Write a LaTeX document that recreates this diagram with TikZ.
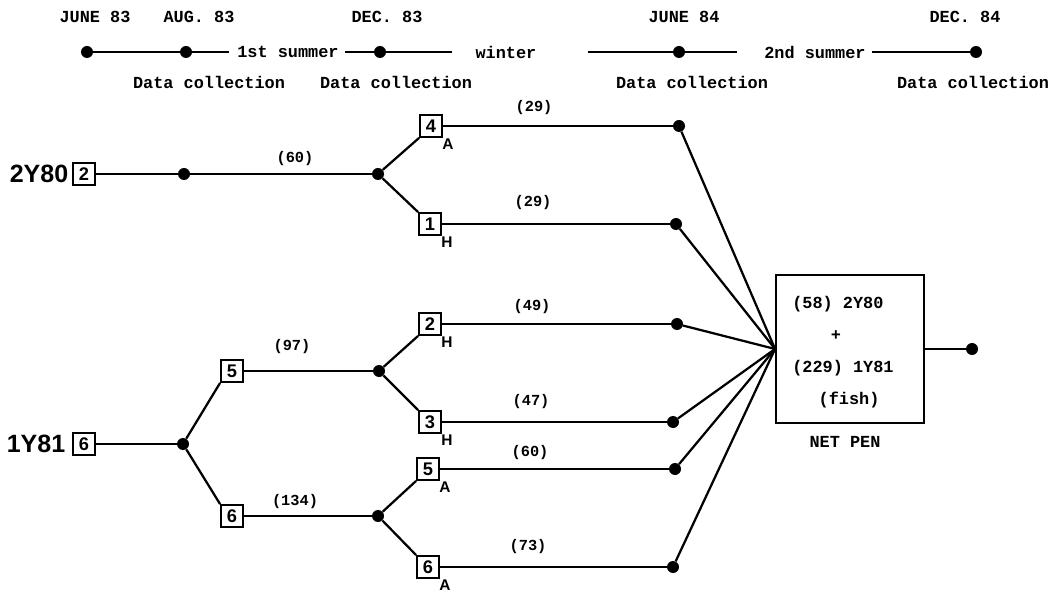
\documentclass[tikz,border=0pt]{standalone}
\usepackage{fontspec}
\newfontfamily\tw{Liberation Mono}
\newfontfamily\hv{Liberation Sans}
\usetikzlibrary{positioning}
\tikzset{tl/.style={font=\tw\bfseries\fontsize{12}{14}\selectfont,inner sep=1pt},
  cnt/.style={font=\tw\bfseries\fontsize{10.9}{12}\selectfont,inner sep=1pt},
  grp/.style={font=\hv\bfseries\fontsize{17.8}{20}\selectfont,inner sep=0pt},
  tank/.style={draw,line width=1.3pt,minimum size=0.55cm,inner sep=0pt,font=\hv\bfseries\fontsize{13}{14}\selectfont},
  tag/.style={font=\hv\bfseries\fontsize{11}{12}\selectfont,inner sep=0.5pt,anchor=north west},
  junc/.style={circle,fill,inner sep=0pt,minimum size=0.3cm},
  ln/.style={line width=1.6pt}}

\begin{document}
\begin{tikzpicture}[x=0.025cm,y=-0.025cm]
% 1 unit = 1 px of the scan, y downwards
\useasboundingbox (0,0) rectangle (1061,597);
% time line
\foreach \n/\x/\m/\lx in {t1/87/JUNE 83/95,t2/186/AUG. 83/199,t3/380/DEC. 83/387,t4/679/JUNE 84/684,t5/976/DEC. 84/965}{
  \node[junc] (\n) at (\x,52) {};
  \node[tl] (m\n) at (\lx,17) {\m};
}
\foreach \k/\x in {1/209,2/396,3/692,4/973}
  \node[tl] (dc\k) at (\x,82) {Data collection};
\node[tl] (s1) at (288,52) {1st summer};
\node[tl] (wi) at (506,52) {winter};
\node[tl] (s2) at (815,52) {2nd summer};
\coordinate (a1) at (229,52); \coordinate (a2) at (345,52);
\coordinate (a3) at (452,52); \coordinate (a4) at (588,52);
\coordinate (a5) at (737,52); \coordinate (a6) at (872,52);
\draw[line width=1.1pt] (t1) -- (t2) -- (a1);
\draw[line width=1.1pt] (a2) -- (t3) -- (a3);
\draw[line width=1.1pt] (a4) -- (t4) -- (a5);
\draw[line width=1.1pt] (a6) -- (t5);
% 2Y80 group
\node[grp] (g80) at (39,174) {2Y80};
\node[tank] (k2) at (84,174) {2};
\node[junc] (p1) at (184,174) {};
\node[junc] (p2) at (378,174) {};
\node[tank] (k4) at (431,126) {4};
\node[tag] (k4t) at ([xshift=-1pt]k4.south east) {A};
\node[tank] (k1) at (430,224) {1};
\node[tag] (k1t) at ([xshift=-1pt]k1.south east) {H};
\node[junc] (e1) at (679,126) {};
\node[junc] (e2) at (676,224) {};
\draw[ln] (k2) -- (p1) -- (p2);
\draw[ln] (p2) -- (k4.south west);
\draw[ln] (p2) -- (k1.north west);
\draw[ln] (k4) -- (e1);
\draw[ln] (k1) -- (e2);
\node[cnt] (n60a) at (295,159) {(60)};
\node[cnt] (n29a) at (534,108) {(29)};
\node[cnt] (n29b) at (533,203) {(29)};
% 1Y81 group
\node[grp] (g81) at (36,444) {1Y81};
\node[tank] (k6) at (84,444) {6};
\node[junc] (q1) at (183,444) {};
\node[tank] (k5u) at (232,371) {5};
\node[tank] (k6u) at (232,516) {6};
\node[junc] (q2) at (379,371) {};
\node[junc] (q3) at (378,516) {};
\draw[ln] (k6) -- (q1);
\draw[ln] (q1) -- (k5u.south west);
\draw[ln] (q1) -- (k6u.north west);
\draw[ln] (k5u) -- (q2);
\draw[ln] (k6u) -- (q3);
\node[cnt] (n97) at (292,347) {(97)};
\node[cnt] (n134) at (295,502) {(134)};
\node[tank] (h2) at (430,324) {2};
\node[tag] (h2t) at ([xshift=-1pt]h2.south east) {H};
\node[tank] (h3) at (430,422) {3};
\node[tag] (h3t) at ([xshift=-1pt]h3.south east) {H};
\node[tank] (a5b) at (428,469) {5};
\node[tag] (a5t) at ([xshift=-1pt]a5b.south east) {A};
\node[tank] (a6b) at (428,567) {6};
\node[tag] (a6t) at ([xshift=-1pt]a6b.south east) {A};
\draw[ln] (q2) -- (h2.south west);
\draw[ln] (q2) -- (h3.north west);
\draw[ln] (q3) -- (a5b.south west);
\draw[ln] (q3) -- (a6b.north west);
\node[junc] (e3) at (677,324) {};
\node[junc] (e4) at (673,422) {};
\node[junc] (e5) at (675,469) {};
\node[junc] (e6) at (673,567) {};
\draw[ln] (h2) -- (e3);
\draw[ln] (h3) -- (e4);
\draw[ln] (a5b) -- (e5);
\draw[ln] (a6b) -- (e6);
\node[cnt] (n49) at (532,307) {(49)};
\node[cnt] (n47) at (531,402) {(47)};
\node[cnt] (n60b) at (530,453) {(60)};
\node[cnt] (n73) at (528,547) {(73)};
% net pen
\node[draw,line width=1.3pt,minimum width=3.7cm,minimum height=3.7cm] (pen) at (850,349) {};
\node[tl,anchor=west,inner sep=0pt] (pn1) at (792,304) {(58) 2Y80};
\node[tl] (pn2) at (836,336) {+};
\node[tl,anchor=west,inner sep=0pt] (pn3) at (792,368) {(229) 1Y81};
\node[tl] (pn4) at (849,400) {(fish)};
\node[tl] (penlab) at (845,442) {NET PEN};
\foreach \e in {e1,e2,e3,e4,e5,e6}
  \draw[ln] (\e) -- (pen.west);
\node[junc] (out) at (972,349) {};
\draw[ln] (pen) -- (out);
\end{tikzpicture}
\end{document}
